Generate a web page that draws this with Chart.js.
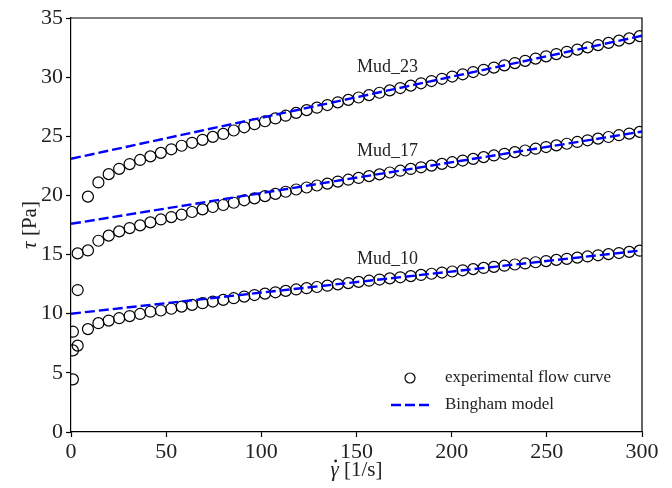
<!DOCTYPE html>
<html>
<head>
<meta charset="utf-8">
<script src="https://cdn.jsdelivr.net/npm/chart.js@4.4.1/dist/chart.umd.min.js"></script>
<style>
  html, body { margin: 0; padding: 0; background: #fff; }
  #wrap { width: 672px; height: 488px; }
</style>
</head>
<body>
<div id="wrap"><canvas id="flowChart" width="672" height="488"></canvas></div>
<script>
// shear rate [1/s] of the measured points
const shearRate = [1, 3.5, 8.9, 14.4, 19.8, 25.3, 30.8, 36.3, 41.7, 47.2, 52.7, 58.1, 63.6, 69.1, 74.5, 80.0,
  85.5, 91.0, 96.4, 101.9, 107.4, 112.8, 118.3, 123.8, 129.2, 134.7, 140.2, 145.7, 151.1, 156.6, 162.1, 167.5,
  173.0, 178.5, 183.9, 189.4, 194.9, 200.3, 205.8, 211.3, 216.8, 222.2, 227.7, 233.2, 238.6, 244.1, 249.6, 255.0,
  260.5, 266.0, 271.4, 276.9, 282.4, 287.9, 293.3, 298.8];

// shear stress [Pa]
const mud10 = [4.45, 7.3, 8.7, 9.2, 9.42, 9.62, 9.8, 9.98, 10.17, 10.27, 10.42, 10.6, 10.75, 10.89, 11.03, 11.17,
  11.31, 11.45, 11.58, 11.70, 11.81, 11.93, 12.05, 12.16, 12.26, 12.37, 12.48, 12.59, 12.69, 12.79, 12.89, 12.99,
  13.08, 13.18, 13.28, 13.38, 13.48, 13.57, 13.67, 13.77, 13.87, 13.96, 14.06, 14.16, 14.25, 14.35, 14.45, 14.55,
  14.64, 14.74, 14.84, 14.94, 15.04, 15.13, 15.23, 15.33];
const mud17 = [6.9, 15.1, 15.35, 16.17, 16.6, 16.96, 17.24, 17.47, 17.72, 17.97, 18.17, 18.37, 18.6, 18.82, 19.02, 19.19,
  19.38, 19.59, 19.75, 19.94, 20.13, 20.31, 20.50, 20.67, 20.84, 21.00, 21.17, 21.33, 21.48, 21.63, 21.78, 21.94,
  22.09, 22.24, 22.38, 22.52, 22.67, 22.81, 22.95, 23.09, 23.24, 23.38, 23.52, 23.66, 23.80, 23.95, 24.09, 24.23,
  24.37, 24.52, 24.66, 24.80, 24.94, 25.09, 25.23, 25.37];
const mud23 = [8.48, 12.0, 19.9, 21.1, 21.8, 22.25, 22.65, 23.0, 23.3, 23.6, 23.9, 24.2, 24.45, 24.7, 24.95, 25.2,
  25.49, 25.76, 26.02, 26.27, 26.51, 26.74, 26.98, 27.21, 27.42, 27.64, 27.87, 28.08, 28.28, 28.48, 28.68, 28.88,
  29.08, 29.28, 29.48, 29.67, 29.86, 30.05, 30.24, 30.43, 30.62, 30.81, 31.00, 31.19, 31.38, 31.57, 31.76, 31.95,
  32.14, 32.33, 32.52, 32.71, 32.90, 33.09, 33.28, 33.47];

// Bingham fits: stress at 0 and 300 1/s
const binghamX = [0, 300];
const binghamMud10 = [10.0, 15.35];
const binghamMud17 = [17.6, 25.4];
const binghamMud23 = [23.1, 33.5];

const mudNames = ['Mud_10', 'Mud_17', 'Mud_23'];
const mudLabelPos = [[150.3, 14.6], [150.3, 23.7], [150.3, 30.8]];

const xTicks = [0, 50, 100, 150, 200, 250, 300];
const yTicks = [0, 5, 10, 15, 20, 25, 30, 35];

const serif = "'Liberation Serif', 'DejaVu Serif', serif";

function pts(xs, ys) {
    return xs.map((x, i) => ({ x: x, y: ys[i] }));
}

const flowStyle = {
    type: 'scatter',
    showLine: false,
    pointStyle: 'circle',
    pointRadius: 5.5,
    pointBorderWidth: 1.2,
    pointBorderColor: '#000',
    pointBackgroundColor: 'rgba(0,0,0,0)',
    clip: 0,
    order: 2
};
const fitStyle = {
    type: 'line',
    borderColor: '#0000ff',
    borderWidth: 2.4,
    borderDash: [10, 4],
    pointRadius: 0,
    fill: false,
    clip: 0,
    order: 1
};

const textPlugin = {
    id: 'textPlugin',
    afterDraw(chart) {
        const c = chart.ctx;
        const a = chart.chartArea;
        const xs = chart.scales.x, ys = chart.scales.y;
        c.save();
        // top and right spines
        c.strokeStyle = '#000';
        c.lineWidth = 1.2;
        c.beginPath();
        c.moveTo(a.left, a.top);
        c.lineTo(a.right, a.top);
        c.lineTo(a.right, a.bottom);
        c.stroke();

        // series labels
        c.fillStyle = '#222';
        c.font = '18px ' + serif;
        c.textBaseline = 'middle';
        c.textAlign = 'left';
        mudNames.forEach((n, i) => {
            c.fillText(n, xs.getPixelForValue(mudLabelPos[i][0]), ys.getPixelForValue(mudLabelPos[i][1]));
        });

        // legend
        c.font = '17px ' + serif;
        c.beginPath();
        c.arc(a.right - 232, a.bottom - 54, 5, 0, Math.PI * 2);
        c.lineWidth = 1.2;
        c.stroke();
        c.fillText('experimental flow curve', a.right - 197, a.bottom - 54);
        c.strokeStyle = '#0000ff';
        c.lineWidth = 2.4;
        c.setLineDash([10, 4]);
        c.beginPath();
        c.moveTo(a.right - 251, a.bottom - 27);
        c.lineTo(a.right - 212, a.bottom - 27);
        c.stroke();
        c.setLineDash([]);
        c.fillText('Bingham model', a.right - 197, a.bottom - 27);

        // axis titles
        c.fillStyle = '#222';
        const cx = (a.left + a.right) / 2;
        const ty = 470;
        const rest = ' [1/s]';
        c.font = 'italic 21px ' + serif;
        const gItalW = c.measureText('\u03b3').width;
        c.font = '21px ' + serif;
        const restW = c.measureText(rest).width;
        let x0 = cx - (gItalW + restW) / 2;
        c.font = 'italic 21px ' + serif;
        c.textAlign = 'left';
        c.fillText('\u03b3', x0, ty);
        c.beginPath();
        c.arc(x0 + gItalW * 0.62, ty - 9, 1.4, 0, Math.PI * 2);
        c.fill();
        c.font = '21px ' + serif;
        c.fillText(rest, x0 + gItalW, ty);

        c.translate(30, (a.top + a.bottom) / 2);
        c.rotate(-Math.PI / 2);
        c.font = 'italic 21px ' + serif;
        const tW = c.measureText('\u03c4').width;
        c.font = '21px ' + serif;
        const pW = c.measureText(' [Pa]').width;
        const y0 = -(tW + pW) / 2;
        c.font = 'italic 21px ' + serif;
        c.fillText('\u03c4', y0, 0);
        c.font = '21px ' + serif;
        c.fillText(' [Pa]', y0 + tW, 0);
        c.restore();
    }
};

const ctx = document.getElementById('flowChart').getContext('2d');
new Chart(ctx, {
    data: {
        datasets: [
            Object.assign({ label: 'Mud_10', data: pts(shearRate, mud10) }, flowStyle),
            Object.assign({ label: 'Mud_17', data: pts(shearRate, mud17) }, flowStyle),
            Object.assign({ label: 'Mud_23', data: pts(shearRate, mud23) }, flowStyle),
            Object.assign({ label: 'Bingham Mud_10', data: pts(binghamX, binghamMud10) }, fitStyle),
            Object.assign({ label: 'Bingham Mud_17', data: pts(binghamX, binghamMud17) }, fitStyle),
            Object.assign({ label: 'Bingham Mud_23', data: pts(binghamX, binghamMud23) }, fitStyle)
        ]
    },
    options: {
        responsive: false,
        animation: false,
        devicePixelRatio: 1,
        layout: { padding: { top: 18, right: 30, left: 0, bottom: 0 } },
        plugins: {
            legend: { display: false },
            tooltip: { enabled: false }
        },
        scales: {
            x: {
                type: 'linear',
                min: 0,
                max: 300,
                afterFit(scale) { scale.height = 56; },
                afterBuildTicks(scale) { scale.ticks = xTicks.map(v => ({ value: v })); },
                grid: { drawOnChartArea: false, drawTicks: true, tickLength: 5, tickColor: '#000', tickWidth: 1.2 },
                border: { display: true, color: '#000', width: 1.2 },
                ticks: { color: '#222', padding: 2, maxRotation: 0, font: { family: serif, size: 22 } }
            },
            y: {
                type: 'linear',
                min: 0,
                max: 35,
                afterFit(scale) { scale.width = 71; },
                afterBuildTicks(scale) { scale.ticks = yTicks.map(v => ({ value: v })); },
                grid: { drawOnChartArea: false, drawTicks: true, tickLength: 5, tickColor: '#000', tickWidth: 1.2 },
                border: { display: true, color: '#000', width: 1.2 },
                ticks: { color: '#222', padding: 3, font: { family: serif, size: 22 } }
            }
        }
    },
    plugins: [textPlugin]
});
</script>
</body>
</html>
